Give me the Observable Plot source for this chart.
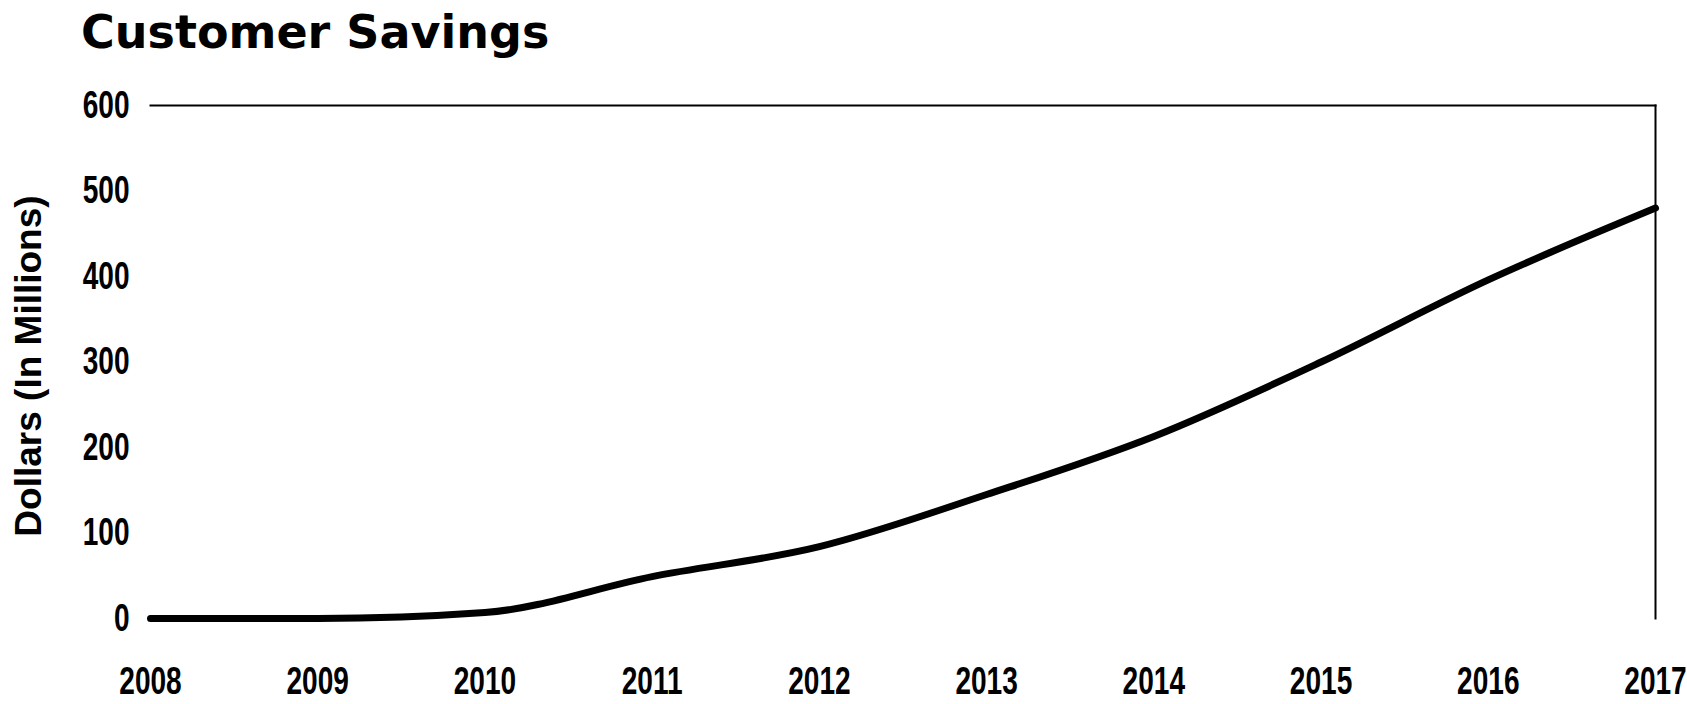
<!DOCTYPE html>
<html>
<head>
<meta charset="utf-8">
<script src="https://cdn.jsdelivr.net/npm/d3@7"></script>
<script src="https://cdn.jsdelivr.net/npm/@observablehq/plot@0.6"></script>
<style>
  html, body { margin: 0; padding: 0; background: #fff; }
  #title {
    font-family: "DejaVu Sans", Verdana, sans-serif;
    font-weight: bold;
    font-size: 46px;
    height: 60px;
    line-height: 64px;
    padding-left: 81px;
    color: #000;
    white-space: nowrap;
  }
  #chart svg { display: block; overflow: visible; }
</style>
</head>
<body>
<div id="title">Customer Savings</div>
<div id="chart"></div>
<script>
// Data
const years = [2008, 2009, 2010, 2011, 2012, 2013, 2014, 2015, 2016, 2017];
const savings = [0, 0, 7, 49, 84, 145, 213, 300, 396, 480];
const yTicks = [0, 100, 200, 300, 400, 500, 600];
const xTicks = years;
const yLabel = "Dollars (In Millions)";

const data = years.map((year, i) => ({year, value: savings[i]}));

const tickFont = '"Liberation Sans", Arial, sans-serif';

const chart = Plot.plot({
  width: 1687,
  height: 644,
  marginTop: 45,
  marginBottom: 86,
  marginLeft: 150,
  marginRight: 32,
  style: {background: "#fff", color: "#000", overflow: "visible"},
  x: {domain: [2008, 2017]},
  y: {domain: [0, 600]},
  marks: [
    Plot.frame({anchor: "top", stroke: "#000", strokeWidth: 2}),
    Plot.frame({anchor: "right", stroke: "#000", strokeWidth: 2}),
    Plot.axisX({
      ticks: xTicks, tickFormat: d => String(d), tickSize: 0, tickPadding: 48,
      label: null, fontSize: 39, fontWeight: "bold", fontFamily: tickFont
    }),
    Plot.axisY({
      ticks: yTicks, tickFormat: d => String(d), tickSize: 0, tickPadding: 21,
      label: null, fontSize: 39, fontWeight: "bold", fontFamily: tickFont
    }),
    Plot.text([yLabel], {
      text: d => d, frameAnchor: "left", textAnchor: "middle", rotate: -90, dx: -121, dy: 4,
      fontSize: 37, fontWeight: "bold",
      fontFamily: '"Liberation Sans", Arial, sans-serif', fill: "#000"
    }),
    Plot.line(data, {
      x: "year", y: "value", curve: "monotone-x",
      stroke: "#000", strokeWidth: 7
    })
  ]
});

// Condensed look of the tick labels (as in the reference)
d3.select(chart)
  .selectAll('g[aria-label="x-axis tick label"] text, g[aria-label="y-axis tick label"] text')
  .each(function () {
    const t = this.getAttribute("transform");
    if (t) this.setAttribute("transform", t + " scale(0.72,1)");
  });

document.getElementById("chart").appendChild(chart);
</script>
</body>
</html>
